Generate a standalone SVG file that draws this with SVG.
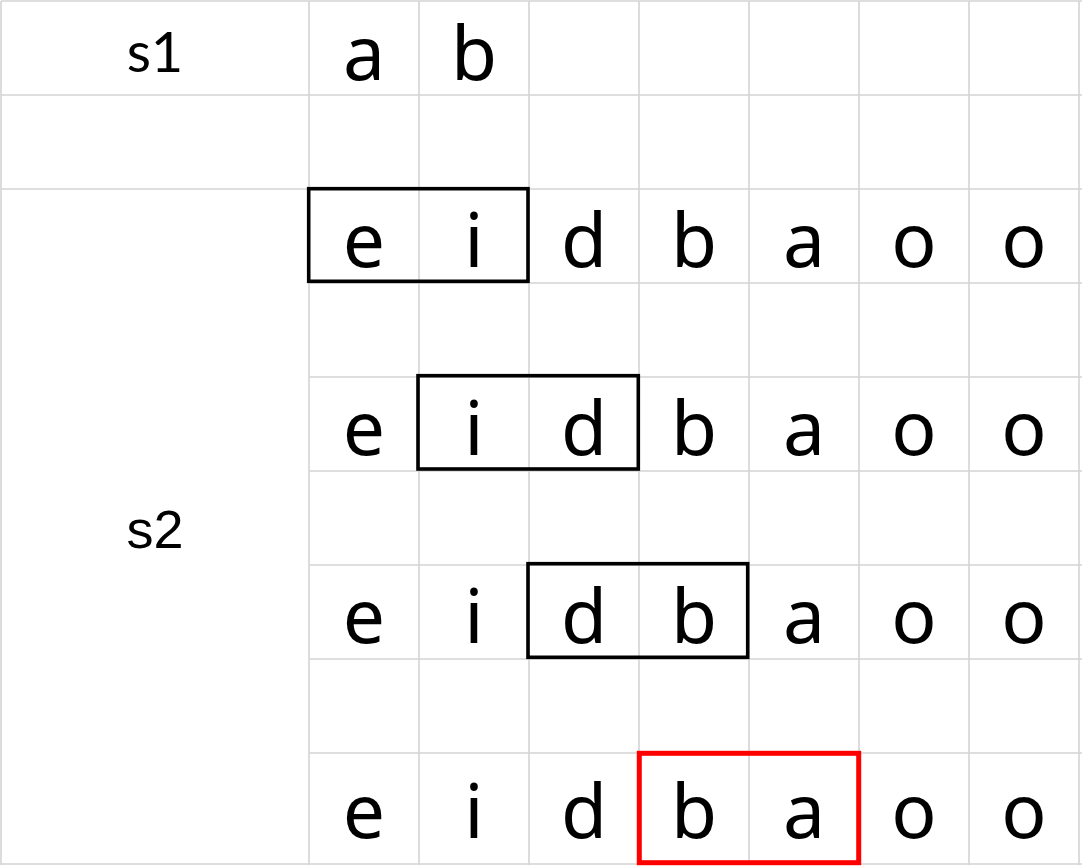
<svg xmlns="http://www.w3.org/2000/svg" width="1082" height="866" viewBox="0 0 1082 866">
<style>
.g{stroke:#d4d4d4;stroke-width:1.6;fill:none}
.ch{font-family:"Noto Sans","Open Sans",sans-serif;font-size:75px;fill:#000;text-anchor:middle}
.lbl{font-family:"Liberation Sans",Arial,sans-serif;font-size:54px;fill:#000;text-anchor:middle}
.box{fill:none;stroke:#000;stroke-width:3.6}
.red{fill:none;stroke:#ff0000;stroke-width:5}
</style>
<rect width="1082" height="866" fill="#fff"/>
<g id="grid">
<path class="g" d="M1,1V865M309,1V865M419,1V865M529,1V865M639,1V865M749,1V865M859,1V865M969,1V865M1079,1V865"/>
<path class="g" d="M1,1H1082M1,95H1082M1,189H1082M309,283H1082M309,377H1082M309,471H1082M309,565H1082M309,659H1082M309,753H1082M1,864H1082"/>
</g>
<g id="labels">
<text class="lbl" x="155" y="72" style="font-family:Lato,'Liberation Sans',sans-serif;font-size:56px">s1</text>
<text class="lbl" x="155" y="548">s2</text>
</g>
<g id="row-s1">
<text class="ch" x="364" y="80">a</text>
<text class="ch" x="474" y="80">b</text>
</g>
<g id="row-1">
<text class="ch" x="364" y="267">e</text><text class="ch" x="474" y="267">i</text><text class="ch" x="584" y="267">d</text><text class="ch" x="694" y="267">b</text><text class="ch" x="804" y="267">a</text><text class="ch" x="914" y="267">o</text><text class="ch" x="1024" y="267">o</text>
</g>
<g id="row-2">
<text class="ch" x="364" y="455">e</text><text class="ch" x="474" y="455">i</text><text class="ch" x="584" y="455">d</text><text class="ch" x="694" y="455">b</text><text class="ch" x="804" y="455">a</text><text class="ch" x="914" y="455">o</text><text class="ch" x="1024" y="455">o</text>
</g>
<g id="row-3">
<text class="ch" x="364" y="643">e</text><text class="ch" x="474" y="643">i</text><text class="ch" x="584" y="643">d</text><text class="ch" x="694" y="643">b</text><text class="ch" x="804" y="643">a</text><text class="ch" x="914" y="643">o</text><text class="ch" x="1024" y="643">o</text>
</g>
<g id="row-4">
<text class="ch" x="364" y="838">e</text><text class="ch" x="474" y="838">i</text><text class="ch" x="584" y="838">d</text><text class="ch" x="694" y="838">b</text><text class="ch" x="804" y="838">a</text><text class="ch" x="914" y="838">o</text><text class="ch" x="1024" y="838">o</text>
</g>
<g id="windows">
<rect class="box" x="308.7" y="188.7" width="219.3" height="92.6"/>
<rect class="box" x="418" y="375.7" width="220.3" height="93.3"/>
<rect class="box" x="528" y="563.7" width="219.7" height="93.6"/>
<rect class="red" x="639.3" y="753.3" width="219.4" height="109.4"/>
</g>
</svg>
